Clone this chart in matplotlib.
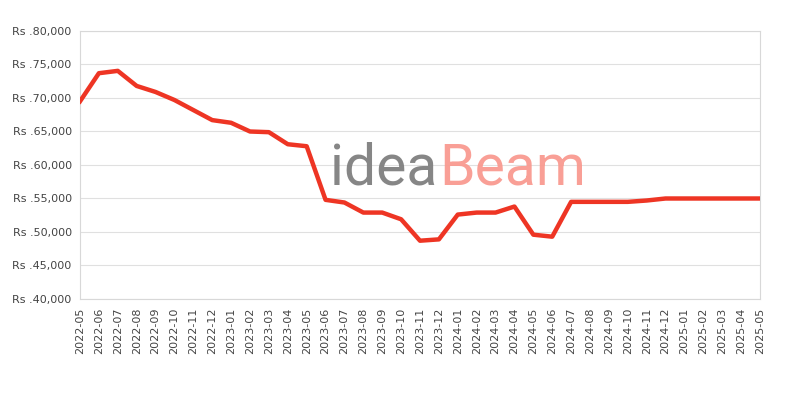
import matplotlib
matplotlib.use("Agg")
import matplotlib.pyplot as plt
from matplotlib.ticker import FuncFormatter

# monthly price points
months = ["2022-05", "2022-06", "2022-07", "2022-08", "2022-09", "2022-10",
          "2022-11", "2022-12", "2023-01", "2023-02", "2023-03", "2023-04",
          "2023-05", "2023-06", "2023-07", "2023-08", "2023-09", "2023-10",
          "2023-11", "2023-12", "2024-01", "2024-02", "2024-03", "2024-04",
          "2024-05", "2024-06", "2024-07", "2024-08", "2024-09", "2024-10",
          "2024-11", "2024-12", "2025-01", "2025-02", "2025-03", "2025-04",
          "2025-05"]
prices = [69500, 73700, 74050, 71800, 70900, 69700,
          68200, 66700, 66300, 65000, 64900, 63100,
          62800, 54800, 54400, 52900, 52900, 51900,
          48700, 48900, 52600, 52900, 52900, 53800,
          49600, 49300, 54500, 54500, 54500, 54500,
          54700, 55000, 55000, 55000, 55000, 55000,
          55000]

fig = plt.figure(figsize=(8, 4), dpi=100)
ax = fig.add_axes([0.1, 0.2525, 0.85, 0.67])

x = list(range(len(months)))
ax.plot(x, prices, color="#ee3524", linewidth=3.2, solid_joinstyle="round", zorder=3)

ax.set_xlim(0, len(months) - 1)
ax.set_ylim(40000, 80000)
ax.set_yticks(range(40000, 80001, 5000))
ax.yaxis.set_major_formatter(FuncFormatter(lambda v, p: "Rs .{:,.0f}".format(v)))
ax.set_xticks(x)
ax.set_xticklabels(months, rotation=90)

ax.grid(axis="y", color="#e0e0e0", linewidth=0.8)
ax.set_axisbelow(True)
for s in ax.spines.values():
    s.set_color("#d8d8d8")
ax.tick_params(length=0, labelsize=8, colors="#444444", pad=6)

# watermark logo
fig.text(0.412, 0.578, "idea", fontsize=41, color="#808080", alpha=0.95,
         ha="left", va="center", family="Roboto", zorder=1)
fig.text(0.549, 0.578, "Beam", fontsize=41, color="#f99a90", alpha=0.95,
         ha="left", va="center", family="Roboto", zorder=1)

fig.savefig("out.png", dpi=100)
